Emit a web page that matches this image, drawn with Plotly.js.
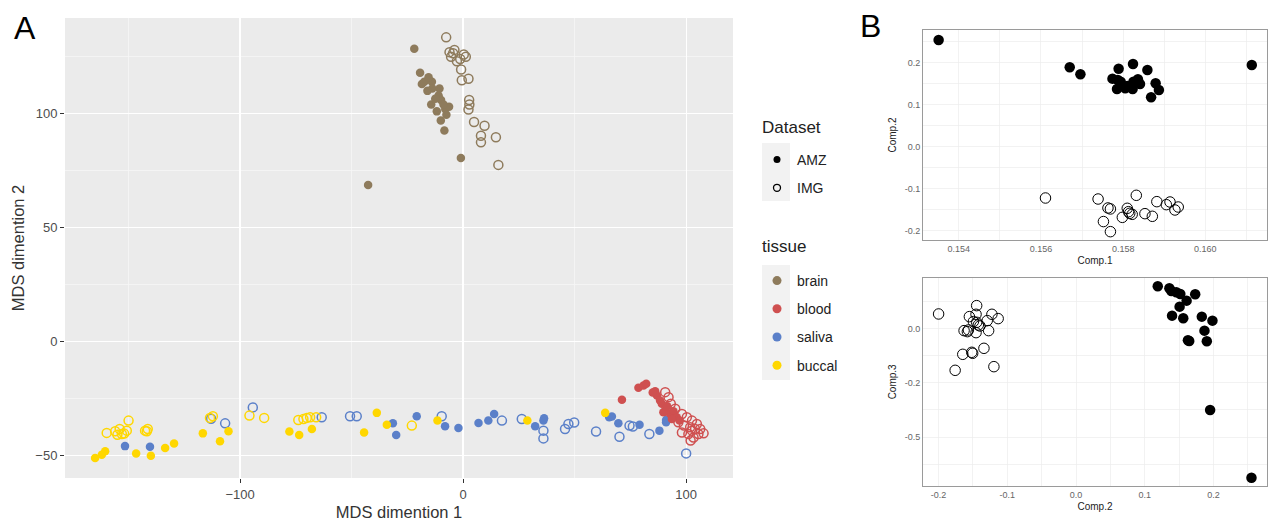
<!DOCTYPE html>
<html><head><meta charset="utf-8">
<script src="https://cdn.plot.ly/plotly-3.0.1.min.js"></script>
<style>html,body{margin:0;padding:0;background:#fff;}#plot{width:1269px;height:521px;}</style>
</head><body><div id="plot"></div>
<script>
// ---------- Panel A data (MDS) ----------
const brainAMZ_x = [-21.9,-19.3,-18.5,-17.4,-14,-13.8,-10.6,-11,-9.9,-14.3,-11.8,-8,-6.3,-8.8,-8.4,-1,-42.6,-16,-12.5,-15.5,-7.5,-10];
const brainAMZ_y = [128.5,118,113,114,114,111,111,108,106,104,101,102,103,104,92.6,80.5,68.7,110,106.5,116,99.5,97];
const brainIMG_x = [-7.6,-6.1,-3.9,-5.4,-2.8,-1.3,1.2,-0.9,-0.6,2.4,2.7,2.8,2.4,4.9,9.6,8,8,14.7,15.8,-4.5,0.3];
const brainIMG_y = [133.5,127,128,125,123,124,125,119.4,114.7,115.3,106,104,101.8,96.3,94.7,90.3,87.4,89.6,77.5,126.5,126];
const bloodAMZ_x = [71.2,78.6,80.9,82.1,86.1,86.9,88.3,89.1,90.6,92.8,94.3,95.8,97,93.6,89.8,85,91.5];
const bloodAMZ_y = [-25.6,-20.4,-19.4,-18.6,-21.9,-23.8,-26,-27.4,-30.4,-31.9,-30.7,-33.3,-34.8,-34.1,-31.1,-22.5,-28.5];
const bloodIMG_x = [90.6,92.1,93.1,95.1,98.1,100.3,102.6,104.8,106.3,107.8,98.1,101,103.3,105.5,102.6,104,101.8,99,96.5,102];
const bloodIMG_y = [-22.3,-24.5,-27.4,-29.6,-31.9,-33.3,-34.8,-36.3,-38.5,-40.4,-40,-40.7,-42.2,-40.7,-39.2,-38.5,-37.7,-37,-35.5,-43.5];
const salivaAMZ_x = [-151.6,-140.4,-31.5,-30,-20.8,-8.1,-2.1,6.9,11.3,13.9,32.3,36,36.3,65.5,66.7,69.6,79.1,88,91,91];
const salivaAMZ_y = [-46,-46.3,-36,-41.1,-32.9,-37.3,-38,-35.8,-34.8,-31.9,-37.3,-34.8,-33.8,-33.3,-33,-36,-36.6,-39.2,-34.5,-35.5];
const salivaIMG_x = [-113,-106.7,-94.3,-63.4,-50.7,-47.7,-9.6,17.4,26.3,36,36,45.7,47.2,49.8,59.6,70.1,74.6,76.1,83.5,100];
const salivaIMG_y = [-34,-36,-29,-33.3,-32.9,-32.9,-32.9,-34.8,-34.1,-39.2,-42.6,-38.5,-36.3,-35.6,-39.6,-41.9,-37,-37.4,-40.7,-49.2];
const buccalAMZ_x = [-165,-162,-160.5,-146.6,-140,-133.6,-129.6,-116.7,-109,-105.2,-77.9,-73.5,-67.8,-44.4,-38.7,-34.2,-11.5,28.8,63.7];
const buccalAMZ_y = [-51.2,-49.8,-48.3,-49.2,-50.2,-46.8,-44.8,-40.4,-43.9,-39.5,-39.6,-41.1,-38.5,-40,-31.4,-36.6,-34.8,-34.8,-31.4];
const buccalIMG_x = [-159.8,-156,-154,-153,-150.8,-150,-155,-142.6,-141.4,-141.8,-113.5,-112.2,-95.8,-89.2,-73.9,-71.6,-70.1,-68.6,-65.9,-23,-152];
const buccalIMG_y = [-40.2,-39.5,-38.5,-40.7,-39.2,-34.8,-41,-39.2,-38.5,-39.5,-33.6,-32.9,-32.6,-33.6,-34.5,-34.1,-33.6,-33.3,-33.3,-37,-40.5];

// ---------- Panel B data ----------
const topAMZ_comp1 = [0.15351,0.15670,0.15696,0.15774,0.15789,0.15787,0.15785,0.15805,0.15824,0.15823,0.15825,0.15836,0.15841,0.15859,0.15868,0.15879,0.15887,0.16113,0.15810,0.15794];
const topAMZ_comp2 = [0.2535,0.1885,0.1719,0.1616,0.1853,0.1584,0.137,0.1386,0.1964,0.137,0.1545,0.16,0.1489,0.1822,0.1172,0.1505,0.1347,0.194,0.144,0.1545];
const topIMG_comp1 = [0.15611,0.15739,0.15763,0.15769,0.15752,0.15769,0.15798,0.15810,0.15813,0.15816,0.15822,0.15832,0.15853,0.15871,0.15882,0.15905,0.15914,0.15926,0.15934];
const topIMG_comp2 = [-0.122,-0.1244,-0.1457,-0.148,-0.178,-0.202,-0.168,-0.1465,-0.1545,-0.1584,-0.1608,-0.1156,-0.1592,-0.1655,-0.1307,-0.1378,-0.1315,-0.1505,-0.1434];
const botIMG_comp2 = [-0.2,-0.1552,-0.1446,-0.1455,-0.1446,-0.1422,-0.1629,-0.1581,-0.1566,-0.1455,-0.1398,-0.1292,-0.1272,-0.1224,-0.1133,-0.1648,-0.1518,-0.1504,-0.134,-0.1195,-0.1759,-0.1494];
const botIMG_comp3 = [0.0677,0.0554,0.1062,0.0662,0.0292,0.0169,-0.0092,-0.0138,-0.0062,-0.0185,0.0123,0.0369,-0.0092,0.0662,0.0462,-0.1185,-0.1092,-0.1138,-0.0908,-0.1754,-0.1923,0.0323];
const botAMZ_comp2 = [0.119,0.1359,0.1388,0.146,0.1518,0.1735,0.161,0.1508,0.1398,0.1561,0.1831,0.1986,0.187,0.1629,0.1648,0.1904,0.1952,0.2554];
const botAMZ_comp3 = [0.1954,0.1862,0.1738,0.1677,0.16,0.1585,0.1292,0.1015,0.06,0.0477,0.0554,0.0369,-0.0092,-0.0538,-0.0569,-0.0585,-0.3754,-0.6877];

// tick labels (panel B: grid positions incl. minor lines, with blank labels for minor)
const topX_tickvals = [0.154,0.155,0.156,0.157,0.158,0.159,0.160,0.161];
const topX_ticktext = ['0.154','','0.156','','0.158','','0.160',''];
const topY_tickvals = [-0.2,-0.15,-0.1,-0.05,0,0.05,0.1,0.15,0.2,0.25];
const topY_ticktext = ['-0.2','','-0.1','','0.0','','0.1','','0.2',''];
const botX_tickvals = [-0.2,-0.15,-0.1,-0.05,0,0.05,0.1,0.15,0.2,0.25];
const botX_ticktext = ['-0.2','','-0.1','','0.0','','0.1','','0.2',''];
const botY_tickvals = [0.125,0,-0.125,-0.25,-0.375,-0.5,-0.625];
const botY_ticktext = ['','0.0','','-0.2','','-0.5',''];
const datasetNames = ['AMZ','IMG'];
const tissueNames = ['brain','blood','saliva','buccal'];
const tissueColors = {brain:'#8E7B5C', blood:'#CF5050', saliva:'#5B80C9', buccal:'#FFD700'};

const dataA = {
  brain:[brainAMZ_x,brainAMZ_y,brainIMG_x,brainIMG_y],
  blood:[bloodAMZ_x,bloodAMZ_y,bloodIMG_x,bloodIMG_y],
  saliva:[salivaAMZ_x,salivaAMZ_y,salivaIMG_x,salivaIMG_y],
  buccal:[buccalAMZ_x,buccalAMZ_y,buccalIMG_x,buccalIMG_y]
};

const traces = [];
['saliva','buccal','brain','blood'].forEach(t=>{
  const d = dataA[t], c = tissueColors[t];
  traces.push({x:d[2], y:d[3], type:'scatter', mode:'markers', xaxis:'x', yaxis:'y', showlegend:false, hoverinfo:'skip',
    marker:{symbol:'circle-open', size:9, color:c, line:{width:1.5, color:c}}});
  traces.push({x:d[0], y:d[1], type:'scatter', mode:'markers', xaxis:'x', yaxis:'y', showlegend:false, hoverinfo:'skip',
    marker:{symbol:'circle', size:8.5, color:c}});
});
// panel B
const bMk = {symbol:'circle', size:10.5, color:'#000'};
const bOp = {symbol:'circle-open', size:10.5, color:'#000', line:{width:1, color:'#222'}};
traces.push({x:topAMZ_comp1, y:topAMZ_comp2, type:'scatter', mode:'markers', xaxis:'x2', yaxis:'y2', showlegend:false, marker:bMk});
traces.push({x:topIMG_comp1, y:topIMG_comp2, type:'scatter', mode:'markers', xaxis:'x2', yaxis:'y2', showlegend:false, marker:bOp});
traces.push({x:botAMZ_comp2, y:botAMZ_comp3, type:'scatter', mode:'markers', xaxis:'x3', yaxis:'y3', showlegend:false, marker:bMk});
traces.push({x:botIMG_comp2, y:botIMG_comp3, type:'scatter', mode:'markers', xaxis:'x3', yaxis:'y3', showlegend:false, marker:bOp});

// legend entries
datasetNames.forEach((n,i)=>{
  traces.push({x:[null], y:[null], type:'scatter', mode:'markers', name:n, legend:'legend', legendgroup:'d'+i, xaxis:'x', yaxis:'y',
    marker: i===0 ? {symbol:'circle', size:7, color:'#000'} : {symbol:'circle-open', size:7, color:'#000', line:{width:1.3,color:'#000'}}});
});
tissueNames.forEach((n,i)=>{
  traces.push({x:[null], y:[null], type:'scatter', mode:'markers', name:n, legend:'legend2', legendgroup:'t'+i, xaxis:'x', yaxis:'y',
    marker:{symbol:'circle', size:9, color:tissueColors[n]}});
});

const W=1269, H=521;
const px = v=>v/W, py = v=>1-v/H;
const gridA = {showgrid:true, gridcolor:'#FFFFFF', gridwidth:1.3, zeroline:false, ticks:'outside', ticklen:4, tickcolor:'#333', tickwidth:1,
  tickfont:{family:'Liberation Sans, Arial, sans-serif', size:13, color:'#4D4D4D'}, showline:false};
const gridB = {showgrid:true, gridcolor:'#EDEDED', gridwidth:0.7, zeroline:false, ticks:'', tickmode:'array',
  showline:true, mirror:true, linecolor:'#9A9A9A', linewidth:1,
  tickfont:{family:'Liberation Sans, Arial, sans-serif', size:9, color:'#666'}};
const bTitleFont = {family:'Liberation Sans, Arial, sans-serif', size:10, color:'#222'};
const minorA = (t0,dt)=>({tickmode:'linear', tick0:t0, dtick:dt, showgrid:true, gridcolor:'#F6F6F6', gridwidth:0.8, ticks:''});

const layout = {
  width:W, height:H, margin:{l:0,r:0,t:0,b:0}, paper_bgcolor:'#fff', plot_bgcolor:'#EBEBEB',
  font:{family:'Liberation Sans, Arial, sans-serif'},
  xaxis: Object.assign({}, gridA, {domain:[px(65),px(733)], range:[-178.5,121], tickmode:'linear', tick0:0, dtick:100,
    minor:minorA(0,50),
    title:{text:'MDS dimention 1', font:{size:16.5, color:'#333'}, standoff:6}}),
  yaxis: Object.assign({}, gridA, {domain:[py(478),py(18)], range:[-60,142], tickmode:'linear', tick0:0, dtick:50,
    minor:minorA(0,25),
    title:{text:'MDS dimention 2', font:{size:16.5, color:'#333'}, standoff:6}}),
  xaxis2: Object.assign({}, gridB, {domain:[px(923),px(1267)], range:[0.15313,0.16150], anchor:'y2', tickvals:topX_tickvals, ticktext:topX_ticktext,
    title:{text:'Comp.1', font:bTitleFont, standoff:4}}),
  yaxis2: Object.assign({}, gridB, {domain:[py(240),py(30)], range:[-0.2218,0.2772], anchor:'x2', tickvals:topY_tickvals, ticktext:topY_ticktext,
    title:{text:'Comp.2', font:bTitleFont, standoff:6}}),
  xaxis3: Object.assign({}, gridB, {domain:[px(923),px(1267)], range:[-0.2227,0.278], anchor:'y3', tickvals:botX_tickvals, ticktext:botX_ticktext,
    title:{text:'Comp.2', font:bTitleFont, standoff:4}}),
  yaxis3: Object.assign({}, gridB, {domain:[py(486),py(277.7)], range:[-0.726,0.235], anchor:'x3', tickvals:botY_tickvals, ticktext:botY_ticktext,
    title:{text:'Comp.3', font:bTitleFont, standoff:6}}),
  shapes:[
    {type:'rect', xref:'x2 domain', yref:'y2 domain', x0:0, x1:1, y0:0, y1:1, fillcolor:'#FFFFFF', line:{width:0}, layer:'below'},
    {type:'rect', xref:'x3 domain', yref:'y3 domain', x0:0, x1:1, y0:0, y1:1, fillcolor:'#FFFFFF', line:{width:0}, layer:'below'},
    {type:'rect', xref:'paper', yref:'paper', x0:px(762), x1:px(790), y0:py(201), y1:py(143), fillcolor:'#F2F2F2', line:{width:0}, layer:'below'},
    {type:'rect', xref:'paper', yref:'paper', x0:px(762), x1:px(790), y0:py(380), y1:py(265), fillcolor:'#F2F2F2', line:{width:0}, layer:'below'}
  ],
  legend:{x:px(757), y:py(144), xanchor:'left', yanchor:'top', bgcolor:'rgba(0,0,0,0)', traceorder:'grouped', tracegroupgap:7,
    font:{size:14, color:'#222'}, itemclick:false},
  legend2:{x:px(757), y:py(265), xanchor:'left', yanchor:'top', bgcolor:'rgba(0,0,0,0)', traceorder:'grouped', tracegroupgap:7,
    font:{size:14, color:'#222'}, itemclick:false},
  annotations:[
    {text:'A', xref:'paper', yref:'paper', x:px(12), y:py(8), xanchor:'left', yanchor:'top', showarrow:false, font:{size:32, color:'#000'}},
    {text:'B', xref:'paper', yref:'paper', x:px(858), y:py(6), xanchor:'left', yanchor:'top', showarrow:false, font:{size:32, color:'#000'}},
    {text:'Dataset', xref:'paper', yref:'paper', x:px(760), y:py(127), xanchor:'left', yanchor:'middle', showarrow:false, font:{size:17, color:'#222'}},
    {text:'tissue', xref:'paper', yref:'paper', x:px(760), y:py(246), xanchor:'left', yanchor:'middle', showarrow:false, font:{size:17, color:'#222'}}
  ]
};
Plotly.newPlot('plot', traces, layout, {staticPlot:true, displayModeBar:false});
</script></body></html>
